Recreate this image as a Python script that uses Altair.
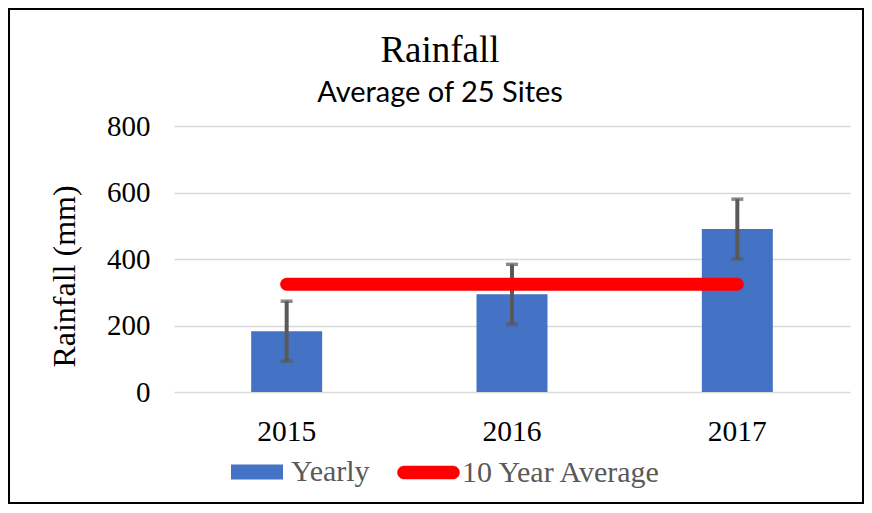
import altair as alt
import pandas as pd

# ---- data ----
years = ["2015", "2016", "2017"]
yearly = [183, 294, 490]
yearly_err = [90, 90, 90]
ten_year_avg = [324, 324, 324]

df = pd.DataFrame({
    "year": years,
    "rain": yearly,
    "lo": [v - e for v, e in zip(yearly, yearly_err)],
    "hi": [v + e for v, e in zip(yearly, yearly_err)],
    "avg": ten_year_avg,
    "s_bar": ["Yearly"] * 3,
    "s_line": ["10 Year Average"] * 3,
})

SERIF = "Liberation Serif"
W, H = 676, 266

x = alt.X("year:N", title=None,
          scale=alt.Scale(paddingInner=0.685, paddingOuter=0.3425),
          axis=alt.Axis(labelAngle=0, labelFont=SERIF, labelFontSize=29.5,
                        labelColor="black", labelPadding=25, ticks=False,
                        tickSize=0, domain=False, grid=False))

y_axis = alt.Axis(values=[0, 200, 400, 600, 800], labelFont=SERIF, labelFontSize=29,
                  labelColor="black", labelPadding=24, ticks=False, tickSize=0,
                  domain=False, gridColor="#d9d9d9", gridWidth=1.5,
                  title="Rainfall (mm)", titleFont=SERIF, titleFontSize=32,
                  titleFontWeight="normal", titleColor="black", titleAngle=270,
                  titleX=-100, titleY=150, titleAlign="center",
                  titleBaseline="alphabetic")
yscale = alt.Scale(domain=[0, 800], nice=False)

base = alt.Chart(df)

border = alt.Chart(pd.DataFrame({"k": [0]})).mark_rect(
    fill="transparent", stroke="black", strokeWidth=2
).encode(x=alt.value(-165), x2=alt.value(689), y=alt.value(-117), y2=alt.value(377))

bars = base.mark_bar(color="#4472C4").encode(
    x=x,
    y=alt.Y("rain:Q", scale=yscale, axis=y_axis),
    color=alt.Color("s_bar:N", scale=alt.Scale(domain=["Yearly"], range=["#4472C4"]),
                    legend=alt.Legend(title=None, orient="none", legendX=57, legendY=320,
                                      symbolType="M-1,-0.29H1V0.29H-1Z", symbolSize=2704,
                                      symbolStrokeWidth=0, labelFont=SERIF,
                                      labelFontSize=30, labelColor="#595959",
                                      labelOffset=8, labelLimit=400, padding=0)),
)

err_rule = base.mark_rule(color="#595959", strokeWidth=4).encode(
    x="year:N", y="lo:Q", y2="hi:Q")
err_lo = base.mark_tick(color="#595959", size=12, thickness=3.5, orient="horizontal").encode(
    x="year:N", y="lo:Q")
err_hi = base.mark_tick(color="#595959", size=12, thickness=3.5, orient="horizontal").encode(
    x="year:N", y="hi:Q")

line = base.mark_line(strokeWidth=13, strokeCap="round").encode(
    x="year:N",
    y="avg:Q",
    color=alt.Color("s_line:N", scale=alt.Scale(domain=["10 Year Average"], range=["#FF0000"]),
                    legend=alt.Legend(title=None, orient="none", legendX=223, legendY=315,
                                      symbolType="M-0.79,-0.21H0.79A0.21,0.21 0 0 1 0.79,0.21H-0.79A0.21,0.21 0 0 1 -0.79,-0.21Z",
                                      symbolSize=3844, symbolFillColor="#FF0000",
                                      symbolStrokeColor="#FF0000",
                                      symbolStrokeWidth=0.5, labelFont=SERIF,
                                      labelFontSize=30, labelColor="#595959",
                                      labelOffset=2, labelLimit=400, padding=0)),
)

chart = alt.layer(border, bars, err_rule, err_lo, err_hi, line).resolve_scale(
    color="independent"
).properties(
    width=W, height=H,
    background="white",
    title=alt.TitleParams(text="Rainfall", subtitle="Average of 25 Sites",
                          font=SERIF, fontSize=37, fontWeight="normal", color="black",
                          subtitleFont="Lato", subtitleFontSize=29, subtitleColor="black",
                          subtitlePadding=9, anchor="middle", frame="group", dx=-72,
                          offset=-101),
    autosize=alt.AutoSizeParams(type="none"),
    padding={"left": 166, "top": 118, "right": 14, "bottom": 113},
).configure_view(stroke="transparent", strokeWidth=0)

chart.save("out.html", embed_options={"renderer": "svg", "actions": False})
